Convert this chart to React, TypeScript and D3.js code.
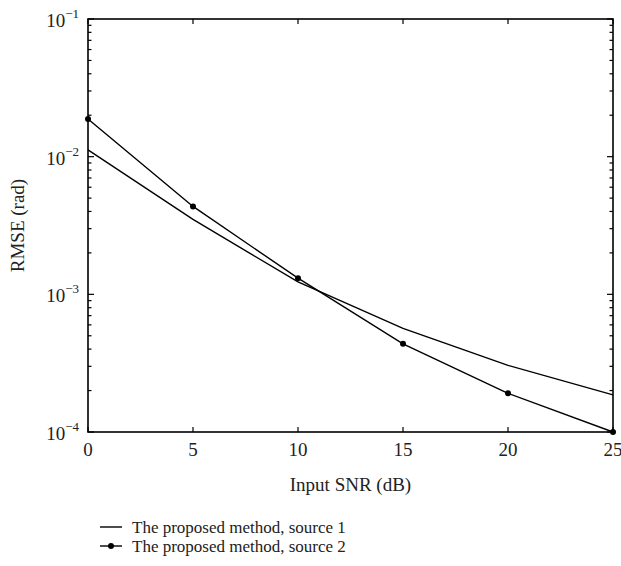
import React, { useEffect, useRef } from "react";
import * as d3 from "d3";

// Input SNR (dB)
const snr = [0, 5, 10, 15, 20, 25];
// RMSE (rad)
const source1 = [0.0112, 0.0035, 0.00123, 0.000565, 0.000305, 0.000186];
const source2 = [0.0188, 0.00435, 0.00131, 0.000437, 0.000191, 0.0001];
const xTicks = [0, 5, 10, 15, 20, 25];
const yDecades = [-4, -3, -2, -1];
const legendLabels = ["The proposed method, source 1", "The proposed method, source 2"];

const W = 621;
const H = 566;
const font = "'Liberation Serif', 'DejaVu Serif', serif";

export default function App() {
  const ref = useRef<SVGSVGElement>(null);

  useEffect(() => {
    const svg = d3.select(ref.current);
    svg.selectAll("*").remove();

    const left = 88, right = 613, top = 19, bottom = 432;
    const x = d3.scaleLinear().domain([0, 25]).range([left, right]);
    const y = d3.scaleLog().domain([1e-4, 1e-1]).range([bottom, top]);

    // minor ticks on y (2..9 per decade), inward both sides
    const minor: number[] = [];
    yDecades.slice(0, -1).forEach((e) => {
      for (let k = 2; k <= 9; k++) minor.push(k * Math.pow(10, e));
    });
    const g = svg.append("g").attr("stroke", "#000").attr("stroke-width", 1.2);
    minor.forEach((v) => {
      g.append("line").attr("x1", left).attr("x2", left + 3.5).attr("y1", y(v)).attr("y2", y(v));
      g.append("line").attr("x1", right).attr("x2", right - 3.5).attr("y1", y(v)).attr("y2", y(v));
    });
    yDecades.forEach((e) => {
      const v = Math.pow(10, e);
      g.append("line").attr("x1", left).attr("x2", left + 6).attr("y1", y(v)).attr("y2", y(v));
      g.append("line").attr("x1", right).attr("x2", right - 6).attr("y1", y(v)).attr("y2", y(v));
    });
    xTicks.forEach((t) => {
      g.append("line").attr("x1", x(t)).attr("x2", x(t)).attr("y1", bottom).attr("y2", bottom - 5);
      g.append("line").attr("x1", x(t)).attr("x2", x(t)).attr("y1", top).attr("y2", top + 5);
    });

    // frame
    svg.append("rect")
      .attr("x", left).attr("y", top)
      .attr("width", right - left).attr("height", bottom - top)
      .attr("fill", "none").attr("stroke", "#000").attr("stroke-width", 1.6);

    // x tick labels
    svg.append("g").selectAll("text")
      .data(xTicks)
      .enter()
      .append("text")
      .attr("x", (d) => x(d))
      .attr("y", 456)
      .attr("text-anchor", "middle")
      .attr("font-family", font)
      .attr("font-size", 19)
      .attr("fill", "#222")
      .text((d) => d);

    // y tick labels 10^e
    yDecades.forEach((e) => {
      const t = svg.append("text")
        .attr("x", 79)
        .attr("y", y(Math.pow(10, e)) + 8)
        .attr("text-anchor", "end")
        .attr("font-family", font)
        .attr("font-size", 19)
        .attr("fill", "#222");
      t.append("tspan").text("10");
      t.append("tspan").attr("font-size", 13).attr("dy", -9).text("\u2212" + Math.abs(e));
    });

    // axis titles
    svg.append("text")
      .attr("x", (left + right) / 2)
      .attr("y", 491)
      .attr("text-anchor", "middle")
      .attr("font-family", font)
      .attr("font-size", 19)
      .attr("fill", "#222")
      .text("Input SNR (dB)");
    svg.append("text")
      .attr("transform", `translate(24, ${(top + bottom) / 2}) rotate(-90)`)
      .attr("text-anchor", "middle")
      .attr("font-family", font)
      .attr("font-size", 19)
      .attr("fill", "#222")
      .text("RMSE (rad)");

    // series
    const line = d3.line<number>()
      .x((d, i) => x(snr[i]))
      .y((d) => y(d));
    svg.append("path").attr("d", line(source1)).attr("fill", "none").attr("stroke", "#000").attr("stroke-width", 1.4);
    svg.append("path").attr("d", line(source2)).attr("fill", "none").attr("stroke", "#000").attr("stroke-width", 1.4);
    svg.append("g").selectAll("circle")
      .data(source2)
      .enter()
      .append("circle")
      .attr("cx", (d, i) => x(snr[i]))
      .attr("cy", (d) => y(d))
      .attr("r", 3)
      .attr("fill", "#000");

    // legend
    legendLabels.forEach((lab, i) => {
      const ly = 527 + i * 19;
      svg.append("line").attr("x1", 100).attr("x2", 122).attr("y1", ly).attr("y2", ly)
        .attr("stroke", "#000").attr("stroke-width", 1.4);
      if (i === 1) svg.append("circle").attr("cx", 111).attr("cy", ly).attr("r", 3).attr("fill", "#000");
      svg.append("text")
        .attr("x", 132)
        .attr("y", ly + 6)
        .attr("font-family", font)
        .attr("font-size", 17)
        .attr("fill", "#222")
        .text(lab);
    });
  }, []);

  return <svg ref={ref} width={W} height={H} style={{ position: "absolute", left: 0, top: 0, background: "#fff" }} />;
}
